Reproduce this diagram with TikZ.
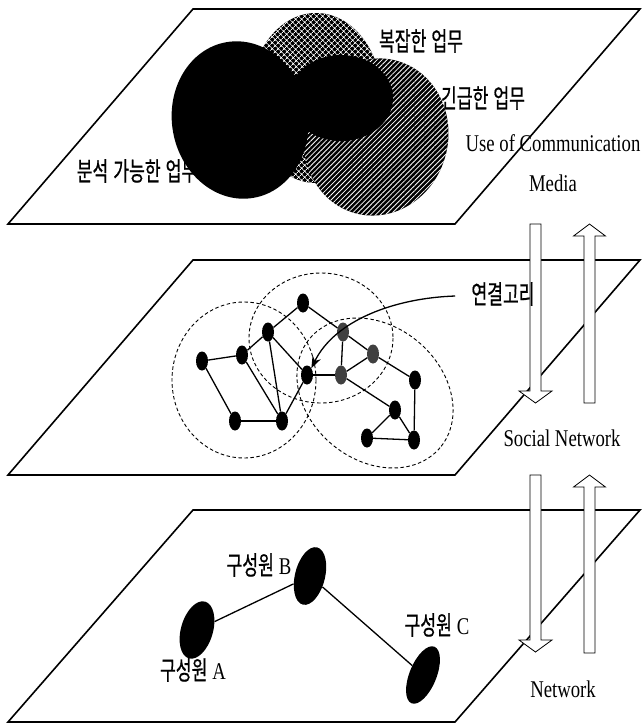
\documentclass[tikz,border=0pt]{standalone}
\usepackage{fontspec}
\setmainfont{Liberation Serif}[FakeStretch=0.78]
\newfontfamily\kofont{Noto Sans CJK KR}[FakeStretch=0.66,FakeBold=0.6,WordSpace=1.3]
\usetikzlibrary{calc,positioning,shapes.geometric,arrows.meta,patterns.meta}

\newcommand{\lat}[1]{{\rmfamily\fontsize{24}{28}\selectfont #1}}
% hollow block arrows between the planes: x of shaft, tail y, tip y
\newcommand{\downblock}[3]{%
  \draw[blockarrow] (#1-5.5,#2) -- (#1+5.5,#2) -- (#1+5.5,#3-12) -- (#1+16.5,#3-12)
    -- (#1,#3) -- (#1-16.5,#3-12) -- (#1-5.5,#3-12) -- cycle;}
\newcommand{\upblock}[3]{%
  \draw[blockarrow] (#1-5.5,#2) -- (#1+5.5,#2) -- (#1+5.5,#3+12) -- (#1+16,#3+12)
    -- (#1,#3) -- (#1-16,#3+12) -- (#1-5.5,#3+12) -- cycle;}

\begin{document}
\begin{tikzpicture}[x=1pt,y=-1pt,
    plane/.style={line width=1.6pt,line join=miter},
    ring/.style={dash pattern=on 3.5pt off 2.5pt,line width=0.9pt},
    netnode/.style={ellipse,fill=black,inner sep=0pt,minimum width=12pt,minimum height=19pt},
    linknode/.style={netnode,fill=black!75},
    member/.style={ellipse,fill=black,inner sep=0pt},
    tie/.style={line width=1.3pt},
    blockarrow/.style={draw=black,fill=white,line width=0.8pt,line join=miter},
    kolabel/.style={font=\kofont\fontsize{26}{30}\selectfont,inner sep=0pt},
    enlabel/.style={font=\fontsize{24}{40}\selectfont,inner sep=0pt}]
  \useasboundingbox (0,0) rectangle (643,724);

  % Top plane: kinds of work.
  \draw[plane] (8,224) -- (193,9) -- (640,9) -- (455,224) -- cycle;
  \node[kolabel] (analysable) at (137,171) {분석 가능한 업무};
  \path[preaction={fill=black},pattern={Hatch[angle=45,distance=4pt,line width=0.7pt]},
    pattern color=white] (316,98) ellipse [x radius=66,y radius=85];
  \path[preaction={fill=black},pattern={Lines[angle=45,distance=3.5pt,line width=0.8pt]},
    pattern color=white] (376,137) ellipse [x radius=72,y radius=79,rotate=-15];
  \fill (240,120) ellipse [x radius=68,y radius=79,rotate=10];
  \fill (341,98) ellipse [x radius=52,y radius=43];
  \node[kolabel] (complex) at (421,41) {복잡한 업무};
  \node[kolabel] (urgent) at (483,98) {긴급한 업무};
  \node[enlabel,align=center] (media) at (553,163) {Use of Communication\\Media};

  % Middle plane: social network.
  \draw[plane] (8,475) -- (193,260) -- (640,260) -- (455,475) -- cycle;
  \draw[ring] (244,380) ellipse [x radius=72,y radius=78];
  \draw[ring] (321,338) ellipse [x radius=72,y radius=65];
  \draw[ring] (375,393) ellipse [x radius=85,y radius=67,rotate=-40];
  \foreach \n/\x/\y in {n1/202/361,n2/242/355,n3/268/332,n4/303/303,n5/235/421,
      n6/282/421,n7/307/375,n11/415/380,n12/395/410,n13/367/438,n14/414/440}
    \node[netnode] (\n) at (\x,\y) {};
  \foreach \n/\x/\y in {n8/343/332,n9/373/354,n10/341/375}
    \node[linknode] (\n) at (\x,\y) {};
  \foreach \a/\b in {n1/n2,n1/n5,n2/n3,n2/n6,n3/n4,n3/n6,n3/n7,n4/n8,n5/n6,n6/n7,
      n7/n10,n8/n10,n8/n9,n9/n10,n9/n11,n10/n12,n11/n14,n12/n13,n12/n14,n13/n14}
    \draw[tie] (\a) -- (\b);
  \node[enlabel] (social) at (562,438) {Social Network};

  % Bottom plane: members.
  \draw[plane] (8,722) -- (193,510) -- (640,510) -- (455,722) -- cycle;
  \node[kolabel] (labelA) at (193,670) {구성원 \lat{A}};
  \node[kolabel] (labelB) at (259,565) {구성원 \lat{B}};
  \node[kolabel] (labelC) at (437,625) {구성원 \lat{C}};
  \node[member,minimum width=32pt,minimum height=59pt,rotate=-16] (A) at (197,630) {};
  \node[member,minimum width=30pt,minimum height=59pt,rotate=-14] (B) at (310,576) {};
  \node[member,minimum width=27pt,minimum height=61pt,rotate=-22] (C) at (423,675) {};
  \draw[tie] (A) -- (B) -- (C);
  \node[enlabel] (network) at (563,689) {Network};

  \downblock{535.5}{224}{403}
  \upblock{589.5}{403}{224}
  \downblock{535.5}{475}{652}
  \upblock{589.5}{653}{475}

  \node[kolabel] (link) at (503,294) {연결고리};
  \draw[line width=1.3pt,-{Stealth[length=12pt,width=9pt]}]
    ($(link.west)+(-16,2)$) .. controls (395,298) and (335,320) .. (n7.north east);
\end{tikzpicture}
\end{document}
